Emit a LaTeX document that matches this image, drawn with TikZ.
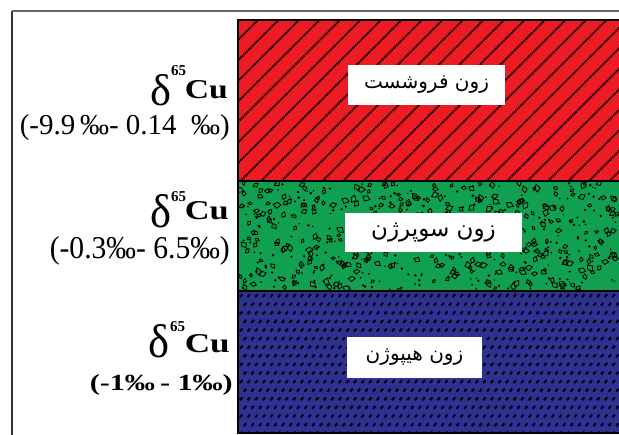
\documentclass[tikz,border=0pt]{standalone}
\usepackage{fontspec}
\usepackage{graphicx}
\setmainfont{Liberation Serif}
\newfontfamily\farsi[Script=Arabic]{DejaVu Sans}
\TeXXeTstate=1
\definecolor{zred}{RGB}{237,28,36}
\definecolor{zgreen}{RGB}{16,160,80}
\definecolor{zblue}{RGB}{46,49,146}
\tikzset{
  hatchline/.style={black, line width=1.8pt, dash pattern=on 1.4pt off 0.8pt},
  pebble/.style={black, line width=0.8pt},
  bmark/.style={black, line width=2.1pt},
  bandline/.style={black, line width=2pt},
  lbl/.style={fill=white, inner sep=0pt, text=black},
  txt/.style={inner sep=0pt, text=black},
}
\begin{document}
\begin{tikzpicture}[x=1pt,y=-1pt]
\useasboundingbox (0,0) rectangle (619,435);
\fill[white] (0,0) rectangle (619,435);
% bands
\fill[zred] (238,20) rectangle (619,181);
\fill[zgreen] (238,181) rectangle (619,291);
\fill[zblue] (238,291) rectangle (619,433);
% red hatch
\begin{scope}
\clip (238,20) rectangle (619,181);
\foreach \i in {0,...,27}{
  \draw[hatchline] ({76.5+\i*20.5},181) -- ++(161,-161);
}
\end{scope}
% green pebbles
\begin{scope}
\clip (238,181) rectangle (619,291);
\pgfmathsetseed{11}
\foreach \k in {1,...,340}{
  \pgfmathsetmacro\px{240+378*rnd}
  \pgfmathsetmacro\py{183+107*rnd}
  \pgfmathsetmacro\an{360*rnd}
  \pgfmathsetmacro\sc{0.8+0.9*rnd}
  \draw[pebble, shift={(\px,\py)}, rotate=\an, scale=\sc]
    (0:2.4) -- (100:1.9) -- (190:2.3) -- (280:1.6) -- cycle;
}
\foreach \k in {1,...,300}{
  \pgfmathsetmacro\px{240+378*rnd}
  \pgfmathsetmacro\py{183+107*rnd}
  \pgfmathsetmacro\rr{0.7+0.7*rnd}
  \fill[black] (\px,\py) circle (\rr);
}
\end{scope}
% blue marks
\begin{scope}
\clip (238,291) rectangle (619,433);
\foreach \r in {0,...,16}{
  \foreach \c in {0,...,50}{
    \pgfmathsetmacro\xx{240+\c*7.6+mod(\r,2)*3.8}
    \pgfmathsetmacro\yy{297+\r*8.6}
    \draw[bmark] (\xx,\yy) -- ++(2.4,-2.8);
  }
}
\end{scope}
% outlines
\coordinate (tl) at (238,20);
\coordinate (tr) at (619,20);
\coordinate (bl) at (238,433);
\coordinate (br) at (619,433);
\coordinate (m1l) at (238,181);
\coordinate (m1r) at (619,181);
\coordinate (m2l) at (238,291);
\coordinate (m2r) at (619,291);
\draw[bandline] (tr) -- (tl) -- (bl) -- (br);
\draw[bandline] (m1l) -- (m1r);
\draw[bandline] (m2l) -- (m2r);
% outer frame
\coordinate (f0) at (12,435);
\coordinate (f1) at (12,11);
\coordinate (f2) at (619,11);
\draw[black!80, line width=2pt] (f0) -- (f1);
\draw[black!60, line width=1.6pt] (f1) -- (f2);
% zone labels
\node[lbl, minimum width=157, minimum height=40] (z1) at (426.5,85)
  {\farsi\fontsize{20}{24}\selectfont\beginR زون فروشست\endR};
\node[lbl, minimum width=177, minimum height=39] (z2) at (433.5,232.5)
  {\farsi\fontsize{23}{28}\selectfont\beginR زون سوپرژن\endR};
\node[lbl, minimum width=135, minimum height=41] (z3) at (414.5,357.5)
  {\farsi\fontsize{20}{24}\selectfont\beginR زون هیپوژن\endR};
% left labels: block 1
\node[txt, anchor=base west] (d1) at (150,106) {\resizebox{21pt}{31pt}{δ}};
\node[txt, anchor=base west] (s1) at (171,76) {\resizebox{15pt}{10pt}{\bfseries 65}};
\node[txt, anchor=base east] (c1) at (228,99) {\resizebox{43pt}{18pt}{\bfseries Cu}};
\node[txt, anchor=base east] (r1) at (230,135) {\resizebox{210pt}{20pt}{(-9.9\,‰- 0.14\ \ ‰)}};
% block 2
\node[txt, anchor=base west] (d2) at (150,228) {\resizebox{21pt}{33pt}{δ}};
\node[txt, anchor=base west] (s2) at (171,202) {\resizebox{15pt}{10pt}{\bfseries 65}};
\node[txt, anchor=base east] (c2) at (229,220) {\resizebox{44pt}{18pt}{\bfseries Cu}};
\node[txt, anchor=base east] (r2) at (230,259) {\resizebox{180pt}{22pt}{(-0.3‰- 6.5‰)}};
% block 3
\node[txt, anchor=base west] (d3) at (148,358) {\resizebox{21pt}{33pt}{δ}};
\node[txt, anchor=base west] (s3) at (170,332) {\resizebox{15pt}{10pt}{\bfseries 65}};
\node[txt, anchor=base east] (c3) at (230,353) {\resizebox{45pt}{18pt}{\bfseries Cu}};
\node[txt, anchor=base east] (r3) at (233,391) {\resizebox{143pt}{16pt}{\bfseries (-1‰\,- 1‰)}};
\end{tikzpicture}
\end{document}
